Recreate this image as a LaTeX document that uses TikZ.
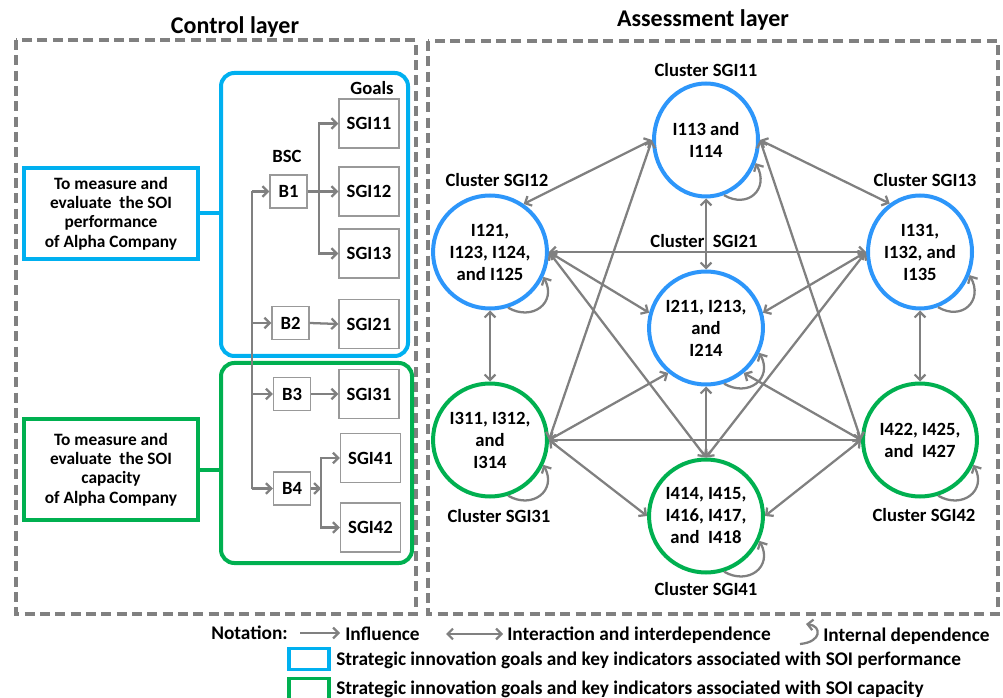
\documentclass[tikz,border=0pt]{standalone}
\usepackage{fontspec}
\setmainfont{Carlito}
\usetikzlibrary{shapes.geometric,arrows.meta}
\definecolor{perfblue}{RGB}{0,176,240}
\definecolor{clustblue}{RGB}{45,150,250}
\definecolor{capgreen}{RGB}{0,176,80}
\definecolor{linegray}{RGB}{128,128,128}

\begin{document}
\begin{tikzpicture}[x=0.75pt, y=-0.75pt, font=\bfseries\fontsize{14}{16}\selectfont,
  >={Straight Barb[length=4pt,width=8pt]},
  layer/.style={draw=linegray, line width=2.3pt, dash pattern=on 7.5pt off 4pt},
  title/.style={font=\bfseries\fontsize{18}{20}\selectfont},
  aim/.style={line width=3pt, minimum width=130.5pt, align=center, inner sep=2pt, font=\bfseries\fontsize{13}{14.6}\selectfont},
  group/.style={line width=3pt, rounded corners=10pt},
  goalbox/.style={draw=linegray!80, line width=1pt, minimum width=45pt, minimum height=36.75pt},
  bscbox/.style={draw=linegray!80, line width=1pt, minimum width=27.75pt, minimum height=24.75pt},
  flow/.style={draw=linegray, line width=1.7pt},
  cluster/.style={ellipse, draw, line width=3pt, minimum width=78pt, minimum height=84.75pt, inner sep=0pt, align=center, font=\bfseries\fontsize{14}{16.5}\selectfont},
  legend/.style={anchor=west, inner sep=0pt, font=\bfseries\fontsize{14.5}{16}\selectfont}]
\useasboundingbox (0,0) rectangle (1003,698);

% Layers
\draw[layer] (16,40) rectangle (416,614);
\draw[layer] (428,41) rectangle (998,614);
\node[title] (ctrltitle) at (235,27) {Control layer};
\node[title] (asmttitle) at (703,20) {Assessment layer};

% Control layer
\node[group, draw=perfblue, minimum width=140.25pt, minimum height=212.25pt] (perf) at (314.5,214.5) {};
\node[group, draw=capgreen, minimum width=143.25pt, minimum height=150pt] (cap) at (316.5,463) {};
\node[aim, draw=perfblue, minimum height=68.25pt] (aimperf) at (111,213.5) {To measure and\\evaluate\ \ the SOI\\performance\\of Alpha Company};
\node[aim, draw=capgreen, minimum height=75.75pt] (aimcap) at (111,469.5) {To measure and\\evaluate\ \ the SOI\\capacity\\of Alpha Company};
\draw[perfblue, line width=3pt] (aimperf.east) -- (aimperf.east -| perf.west);
\draw[capgreen, line width=3pt] (aimcap.east) -- (aimcap.east -| cap.west);

\node (goals) at (372,88) {Goals};
\node (bsc) at (287,156) {BSC};
\node[goalbox] (sgi11) at (369,123.5) {SGI11};
\node[goalbox] (sgi12) at (369,191.5) {SGI12};
\node[goalbox] (sgi13) at (369,253.5) {SGI13};
\node[goalbox] (sgi21) at (369,324) {SGI21};
\node[goalbox] (sgi31) at (369,394) {SGI31};
\node[goalbox] (sgi41) at (370.5,458) {SGI41};
\node[goalbox] (sgi42) at (370.5,527.5) {SGI42};
\node[bscbox] (b1) at (288.5,191.5) {B1};
\node[bscbox] (b2) at (290.5,323) {B2};
\node[bscbox] (b3) at (292,394) {B3};
\node[bscbox] (b4) at (292,488.5) {B4};

\coordinate (trunk) at (252,191.5);
\coordinate (split1) at (319,191.5);
\coordinate (split4) at (321,488.5);
\draw[flow] (trunk) -- (trunk |- b4.west);
\foreach \b in {b1,b2,b3,b4}
  \draw[flow,->] (trunk |- \b.west) -- (\b.west);
\draw[flow,->] (b1.east) -- (sgi12.west);
\draw[flow,->] (split1) |- (sgi11.west);
\draw[flow,->] (split1) |- (sgi13.west);
\draw[flow,->] (b2.east) -- (sgi21.west);
\draw[flow,->] (b3.east) -- (sgi31.west);
\draw[flow,->] (b4.east) -- (split4);
\draw[flow,->] (split4) |- (sgi41.west);
\draw[flow,->] (split4) |- (sgi42.west);

% Assessment layer
\node[cluster, draw=clustblue] (c11) at (706,140) {I113 and\\I114};
\node[cluster, draw=clustblue] (c12) at (490,252) {I121,\\I123, I124,\\and I125};
\node[cluster, draw=clustblue] (c13) at (920,252) {I131,\\I132, and\\I135};
\node[cluster, draw=clustblue] (c21) at (706,328) {I211, I213,\\and\\I214};
\node[cluster, draw=capgreen] (c31) at (490,440) {I311, I312,\\and\\I314};
\node[cluster, draw=capgreen] (c41) at (706,516) {I414, I415,\\I416, I417,\\and\ \ I418};
\node[cluster, draw=capgreen] (c42) at (920,440) {I422, I425,\\and\ \ I427};

\node (lab11) at (706,70) {Cluster SGI11};
\node (lab12) at (497,180) {Cluster SGI12};
\node (lab13) at (925,180) {Cluster SGI13};
\node (lab21) at (704,241) {Cluster\ \ SGI21};
\node (lab31) at (499,516) {Cluster SGI31};
\node (lab41) at (706,589) {Cluster SGI41};
\node (lab42) at (924,515) {Cluster SGI42};

\draw[flow,<->] (c11.west) -- (c12.55);
\draw[flow,<->] (c11.east) -- (c13.122);
\draw[flow,<->] (c11.south) -- (c21.north);
\draw[flow,<->] (c12.east) -- (c13.west);
\draw[flow,<->] (c12.east) -- (c21.165);
\draw[flow,<->] (c13.west) -- (c21.15);
\draw[flow,<->] (c12.south) -- (c31.north);
\draw[flow,<->] (c13.south) -- (c42.north);
\draw[flow,<->] (c21.south) -- (c41.north);
\draw[flow,<->] (c31.east) -- (c42.west);
\draw[flow,<->] (c31.east) -- (c21.-130);
\draw[flow,<->] (c42.west) -- (c21.-50);
\draw[flow,<->] (c31.east) -- (c41.west);
\draw[flow,<->] (c42.west) -- (c41.east);
\draw[flow,<->] (c11.west) -- (c31.east);
\draw[flow,<->] (c11.east) -- (c42.west);
\draw[flow,<->] (c12.east) -- (c41.north);
\draw[flow,<->] (c13.west) -- (c41.north);
\foreach \c in {c11,c12,c13,c21,c31,c41,c42}
  \draw[flow,->] (\c.-72) .. controls +(24,14) and +(14,26) .. (\c.-25);

% Notation
\node[legend] (notation) at (211,633) {Notation:};
\coordinate (infl0) at (300,633);
\coordinate (infl1) at (340,633);
\draw[flow,->] (infl0) -- (infl1);
\node[legend] (infltext) at (345,634) {Influence};
\coordinate (inter0) at (446,634);
\coordinate (inter1) at (503,634);
\draw[flow,<->] (inter0) -- (inter1);
\node[legend] (intertext) at (507,635) {Interaction and interdependence};
\coordinate (own0) at (800,644);
\coordinate (own1) at (806,624);
\draw[flow,->] (own0) .. controls (822,642) and (822,626) .. (own1);
\node[legend] (owntext) at (823,636) {Internal dependence};
\node[draw=perfblue, line width=2.5pt, minimum width=30pt, minimum height=15.75pt, inner sep=0pt] (keyperf) at (309,659) {};
\node[legend] (keyperftext) at (336,660) {Strategic innovation goals and key indicators associated with SOI performance};
\node[draw=capgreen, line width=2.5pt, minimum width=30pt, minimum height=15.75pt, inner sep=0pt] (keycap) at (309,689) {};
\node[legend] (keycaptext) at (336,689) {Strategic innovation goals and key indicators associated with SOI capacity};
\end{tikzpicture}
\end{document}
